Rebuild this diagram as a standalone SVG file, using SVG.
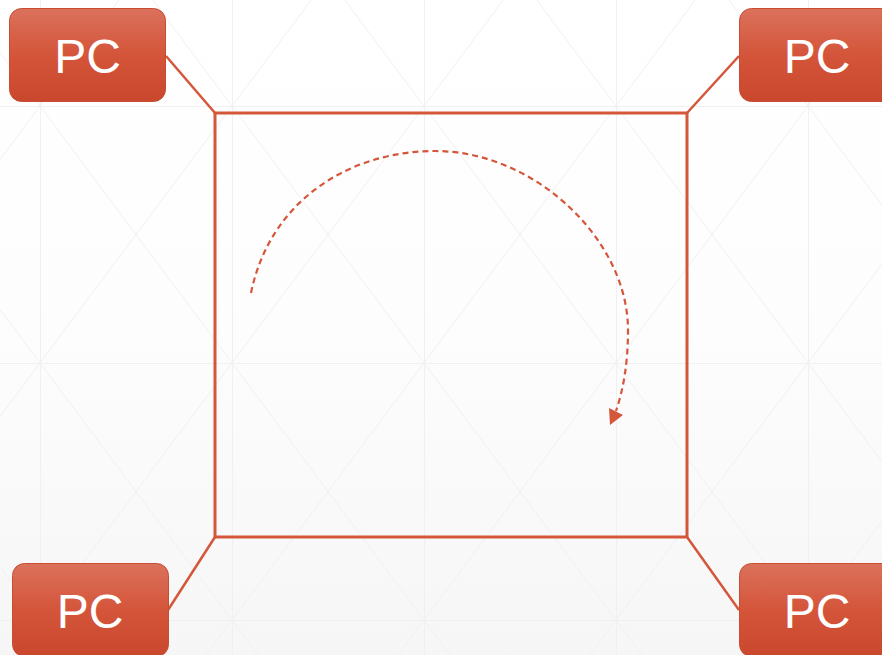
<svg xmlns="http://www.w3.org/2000/svg" width="882" height="655" viewBox="0 0 882 655">
<style>
.pc rect{fill:url(#boxg);stroke:#c84d33;stroke-width:1}
.pc text{font-family:"Liberation Sans",Arial,sans-serif;font-size:48px;fill:#ffffff;text-anchor:middle}
.conn{stroke:#d4573b;stroke-width:2.5;fill:none}
.arc{stroke:#d4573b;stroke-width:2.2;fill:none;stroke-dasharray:6 4}
</style>
<defs>
<linearGradient id="bg" x1="0" y1="0" x2="0" y2="1">
<stop offset="0" stop-color="#ffffff"/>
<stop offset="0.5" stop-color="#fdfdfd"/>
<stop offset="1" stop-color="#f6f6f6"/>
</linearGradient>
<linearGradient id="boxg" x1="0" y1="0" x2="0" y2="1">
<stop offset="0" stop-color="#db715c"/>
<stop offset="0.5" stop-color="#d4553a"/>
<stop offset="1" stop-color="#c9472d"/>
</linearGradient>
<pattern id="grid" patternUnits="userSpaceOnUse" x="40" y="106" width="192" height="257">
<g stroke="#f0f0f0" stroke-width="1" fill="none">
<line x1="0.5" y1="0" x2="0.5" y2="257"/>
<line x1="0" y1="0.5" x2="192" y2="0.5"/>
<line x1="0" y1="0" x2="192" y2="257"/>
<line x1="192" y1="0" x2="0" y2="257"/>
</g>
</pattern>
</defs>
<rect width="882" height="655" fill="url(#bg)"/>
<rect width="882" height="655" fill="url(#grid)"/>
<g id="connectors">
<rect id="ring" x="215" y="113" width="472" height="424" fill="none" stroke="#d4573b" stroke-width="3"/>
<line class="conn" x1="166" y1="56" x2="215" y2="113"/>
<line class="conn" x1="739" y1="56" x2="687" y2="113"/>
<line class="conn" x1="168" y1="610" x2="215" y2="537"/>
<line class="conn" x1="739" y1="610" x2="687" y2="537"/>
<path class="arc" d="M251,293 C270,200 350,151 435,151 C535,151 628,240 628,330 C628,365 623,390 616,411"/>
<polygon points="609,408 623,415 610,425" fill="#d4573b"/>
</g>
<g id="pc-tl" class="pc"><rect x="9.5" y="8.5" width="156" height="93" rx="12"/><text x="87.5" y="73">PC</text></g>
<g id="pc-tr" class="pc"><rect x="739.5" y="8.5" width="156" height="93" rx="12"/><text x="817" y="73">PC</text></g>
<g id="pc-bl" class="pc"><rect x="12.5" y="563.5" width="156" height="93" rx="12"/><text x="90" y="628">PC</text></g>
<g id="pc-br" class="pc"><rect x="739.5" y="563.5" width="156" height="93" rx="12"/><text x="817" y="628">PC</text></g>
</svg>
